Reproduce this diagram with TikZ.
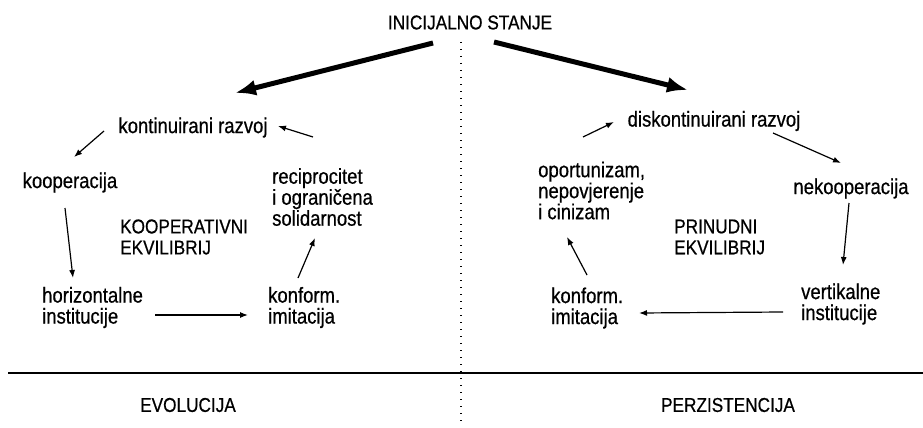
\documentclass[tikz,border=0pt]{standalone}
\usepackage{fontspec}
\setmainfont{Liberation Sans}[FakeStretch=0.86,FakeBold=0.6]
\usepackage{tikz}
\usetikzlibrary{calc,arrows.meta}

\tikzset{
    lbl/.style={inner sep=2pt, font=\fontsize{21.5}{21}\selectfont},
    caps/.style={inner sep=2pt, font=\fontsize{20}{21}\selectfont},
    blok/.style={lbl, anchor=west, align=left},
    arr/.style={line width=1.2pt, -{Latex[length=8pt,width=6pt]}},
    bigarr/.style={line width=5pt, -{Latex[length=21pt,width=16pt]}}
}

\begin{document}
\begin{tikzpicture}[x=1pt,y=-1pt]
        \useasboundingbox (0,0) rectangle (923,428);
        \node[caps] (init) at (470,22.5) {INICIJALNO STANJE};
        \node[lbl] (kont) at (193,127.5) {kontinuirani razvoj};
        \node[lbl] (koop) at (70,182.5) {kooperacija};
        \node[blok] (recip) at (270,197) {reciprocitet\\i ograničena\\solidarnost};
        \node[caps, anchor=west, align=left] (kevl) at (118,237) {KOOPERATIVNI\\EKVILIBRIJ};
        \node[blok] (horiz) at (40,307.5) {horizontalne\\institucije};
        \node[blok] (konfl) at (266,307.5) {konform.\\imitacija};
        \node[lbl] (disk) at (714,121) {diskontinuirani razvoj};
        \node[lbl] (nekoop) at (851,188.5) {nekooperacija};
        \node[blok] (opor) at (536,190.5) {oportunizam,\\nepovjerenje\\i cinizam};
        \node[caps, anchor=west, align=left] (pevl) at (672,237) {PRINUDNI\\EKVILIBRIJ};
        \node[blok] (vert) at (799,304) {vertikalne\\institucije};
        \node[blok] (konfr) at (549,308) {konform.\\imitacija};
        \node[caps] (evol) at (188,405) {EVOLUCIJA};
        \node[caps] (perz) at (728,405) {PERZISTENCIJA};

        \draw[bigarr] ([shift={(-37,20.5)}]init.center) -- ([shift={(42,-34.5)}]kont.center);
        \draw[bigarr] ([shift={(24,19.5)}]init.center) -- ([shift={(-26,-31)}]disk.center);

        \draw[arr] ([shift={(-89,3.5)}]kont.center) -- ([shift={(4,-25.5)}]koop.center);
        \draw[arr] ([shift={(-5,25.5)}]koop.center) -- ([shift={(33,-29.5)}]horiz.west);
        \draw[arr] ([shift={(115,7.5)}]horiz.west) -- ([shift={(-18,7.5)}]konfl.west);
        \draw[arr] ([shift={(32,-29.5)}]konfl.west) -- ([shift={(45,41)}]recip.west);
        \draw[arr] ([shift={(43,-60)}]recip.west) -- ([shift={(85,-1.5)}]kont.center);

        \draw[arr] ([shift={(47,-53.5)}]opor.west) -- ([shift={(-100,1)}]disk.center);
        \draw[arr] ([shift={(59,12)}]disk.center) -- ([shift={(-10,-25.5)}]nekoop.center);
        \draw[arr] ([shift={(-2,14.5)}]nekoop.center) -- ([shift={(44,-39)}]vert.west);
        \draw[arr] ([shift={(-16,8)}]vert.west) -- ([shift={(90,5)}]konfr.west);
        \draw[arr] ([shift={(38,-33)}]konfr.west) -- ([shift={(31,46.5)}]opor.west);

        \draw[line width=1.4pt] (8,373) -- (923,373);
        \draw[line width=1.6pt, dash pattern=on 1.3pt off 5.7pt] (461,42) -- (461,424);
    \end{tikzpicture}
\end{document}
